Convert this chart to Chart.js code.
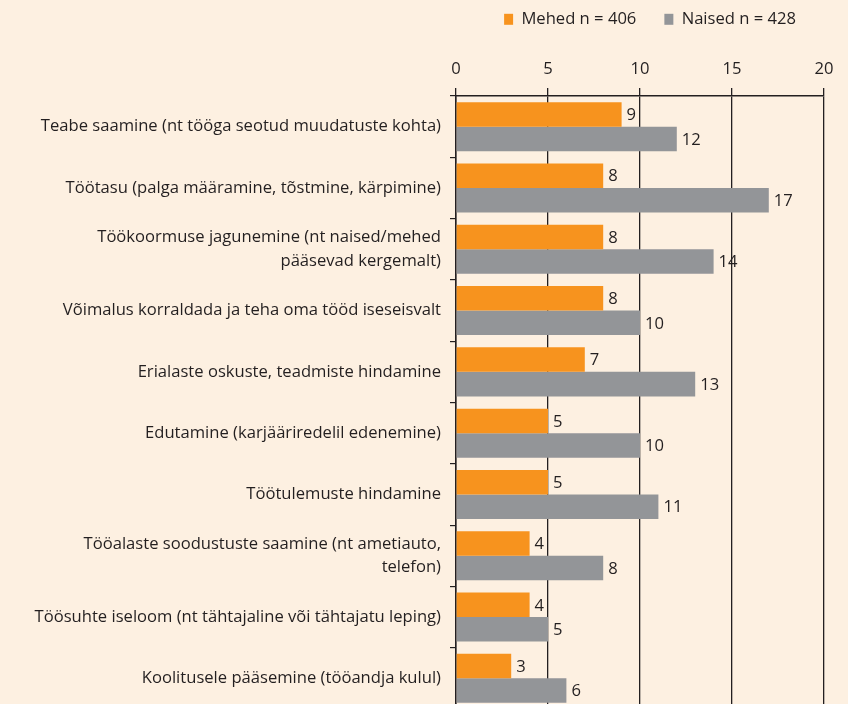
<!DOCTYPE html>
<html>
<head>
<meta charset="utf-8">
<script src="https://cdn.jsdelivr.net/npm/chart.js@4.4.1/dist/chart.umd.min.js"></script>
<style>
  html, body { margin: 0; padding: 0; background: #fdf0e1; overflow: hidden; }
  #chart { position: absolute; left: 0; top: -17px; }
</style>
</head>
<body>
<canvas id="chart" width="848" height="728"></canvas>
<script>
const categories = [
    "Teabe saamine (nt tööga seotud muudatuste kohta)",
    "Töötasu (palga määramine, tõstmine, kärpimine)",
    ["Töökoormuse jagunemine (nt naised/mehed", "pääsevad kergemalt)"],
    "Võimalus korraldada ja teha oma tööd iseseisvalt",
    "Erialaste oskuste, teadmiste hindamine",
    "Edutamine (karjääriredelil edenemine)",
    "Töötulemuste hindamine",
    ["Tööalaste soodustuste saamine (nt ametiauto,", "telefon)"],
    "Töösuhte iseloom (nt tähtajaline või tähtajatu leping)",
    "Koolitusele pääsemine (tööandja kulul)"
];
const mehed = [9, 8, 8, 8, 7, 5, 5, 4, 4, 3];
const naised = [12, 17, 14, 10, 13, 10, 11, 8, 5, 6];
const seriesNames = ["Mehed n = 406", "Naised n = 428"];

const ink = "#231f20";
const font = "'Open Sans', sans-serif";
const fontSize = 16.6;

// numbers at the end of each bar
const valueLabels = {
    id: "valueLabels",
    afterDatasetsDraw(chart) {
        const ctx = chart.ctx;
        ctx.save();
        ctx.font = fontSize + "px " + font;
        ctx.fillStyle = ink;
        ctx.textBaseline = "middle";
        ctx.textAlign = "left";
        chart.data.datasets.forEach((ds, i) => {
            chart.getDatasetMeta(i).data.forEach((bar, j) => {
                ctx.fillText(ds.data[j], bar.x + 5, bar.y + 1);
            });
        });
        ctx.restore();
    }
};

// room under the legend
const legendGap = {
    id: "legendGap",
    beforeInit(chart) {
        const fit = chart.legend.fit;
        chart.legend.fit = function () {
            fit.call(this);
            this.height += 12.5;
        };
    }
};

new Chart(document.getElementById("chart"), {
    type: "bar",
    data: {
        labels: categories,
        datasets: [
            {
                label: seriesNames[0],
                data: mehed,
                backgroundColor: "#f7931e",
                borderWidth: 0,
                barPercentage: 1.0,
                categoryPercentage: 0.8
            },
            {
                label: seriesNames[1],
                data: naised,
                backgroundColor: "#939598",
                borderWidth: 0,
                barPercentage: 1.0,
                categoryPercentage: 0.8
            }
        ]
    },
    plugins: [valueLabels, legendGap],
    options: {
        indexAxis: "y",
        responsive: false,
        animation: false,
        layout: {
            padding: { left: 0, right: 24, top: 0, bottom: 2 }
        },
        scales: {
            x: {
                position: "top",
                min: 0,
                max: 20,
                ticks: {
                    stepSize: 5,
                    padding: 9,
                    color: ink,
                    font: { family: font, size: fontSize }
                },
                grid: {
                    color: ink,
                    lineWidth: 1.3,
                    tickLength: 8,
                    drawOnChartArea: true
                },
                border: { color: ink, width: 1.5 }
            },
            y: {
                afterFit: (scale) => {
                    scale.width = 456;
                    scale.paddingTop = 0;
                    scale.paddingBottom = 0;
                },
                ticks: {
                    padding: 9,
                    color: ink,
                    font: { family: font, size: fontSize, lineHeight: 1.4 }
                },
                grid: {
                    offset: true,
                    drawOnChartArea: false,
                    color: ink,
                    lineWidth: 1.2,
                    tickLength: 6
                },
                border: { color: ink, width: 1.5 }
            }
        },
        plugins: {
            legend: {
                position: "top",
                align: "end",
                labels: {
                    boxWidth: 9,
                    boxHeight: 11,
                    padding: 28,
                    color: ink,
                    font: { family: font, size: fontSize }
                }
            },
            tooltip: { enabled: false }
        }
    }
});
</script>
</body>
</html>
